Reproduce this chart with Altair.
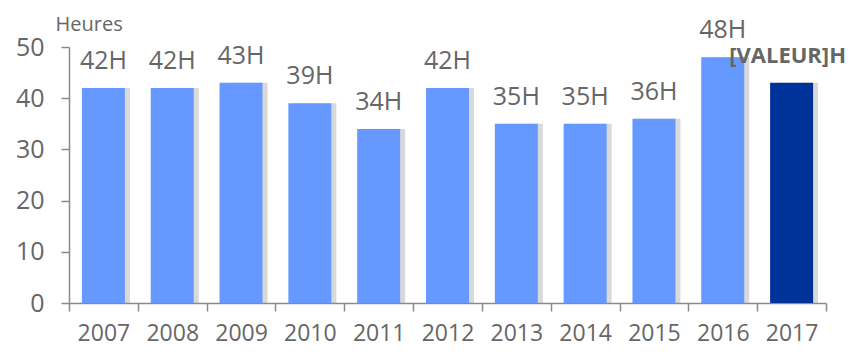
import altair as alt
import pandas as pd

years = ["2007", "2008", "2009", "2010", "2011", "2012", "2013", "2014", "2015", "2016", "2017"]
values = [42, 42, 43, 39, 34, 42, 35, 35, 36, 48, 43]
labels = ["42H", "42H", "43H", "39H", "34H", "42H", "35H", "35H", "36H", "48H", "[VALEUR]H"]
highlight = [False] * 10 + [True]

df = pd.DataFrame({"year": years, "value": values, "label": labels, "hl": highlight})

FONT = "Open Sans"
GRAY = "#666666"
AXIS = "#8a8a8a"

x = alt.X("year:N", sort=years, title=None,
          scale=alt.Scale(paddingInner=0, paddingOuter=0),
          axis=alt.Axis(labelAngle=0, tickBand="extent", tickSize=8, tickColor=AXIS,
                        domainColor=AXIS, domainWidth=1.5, tickWidth=1.5,
                        labelFont=FONT, labelFontSize=23, labelColor=GRAY,
                        labelPadding=11, labelBaseline="top"))
y = alt.Y("value:Q", title="Heures",
          scale=alt.Scale(domain=[0, 50], nice=False),
          axis=alt.Axis(values=[0, 10, 20, 30, 40, 50], grid=False, tickSize=8,
                        tickColor=AXIS, domainColor=AXIS, domainWidth=1.5, tickWidth=1.5,
                        labelFont=FONT, labelFontSize=25, labelColor=GRAY, labelPadding=17,
                        titleFont=FONT, titleFontSize=20, titleFontWeight="normal",
                        titleColor=GRAY, titleAngle=0, titleAlign="left",
                        titleBaseline="alphabetic", titleX=-14, titleY=-17))

base = alt.Chart(df)

shadow = base.mark_bar(size=43, xOffset=5, color="#a0a0a0", opacity=0.4).encode(x=x, y=y)

bars = base.mark_bar(size=43).encode(
    x=x, y=y,
    color=alt.Color("hl:N", scale=alt.Scale(domain=[False, True], range=["#6699FF", "#003399"]),
                    legend=None),
)

text = base.transform_filter("!datum.hl").mark_text(
    font=FONT, fontSize=25, color=GRAY, baseline="alphabetic", dy=-19
).encode(x=x, y=y, text="label:N")

text_hl = base.transform_filter("datum.hl").mark_text(
    font=FONT, fontSize=22, fontWeight="bold", color=GRAY, baseline="alphabetic", dy=-20, dx=-4
).encode(x=x, y=y, text="label:N")

chart = alt.layer(shadow, bars, text, text_hl).properties(
    width=757, height=256,
    autosize=alt.AutoSizeParams(type="none"),
    padding={"left": 61, "top": 39, "right": 25, "bottom": 43},
).configure_view(stroke=None)

chart.save("out.html", embed_options={"renderer": "svg", "actions": False})
